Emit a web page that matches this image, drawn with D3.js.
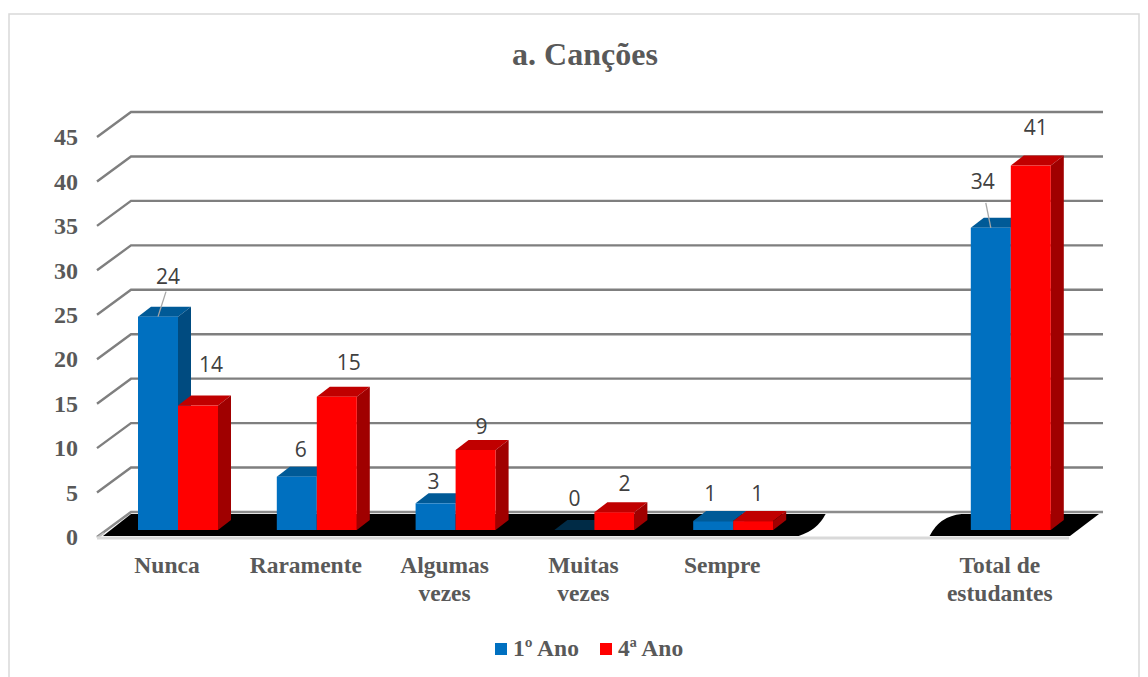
<!DOCTYPE html>
<html>
<head>
<meta charset="utf-8">
<script src="https://cdn.jsdelivr.net/npm/d3@7"></script>
<style>
    html, body { margin: 0; padding: 0; background: #fff; overflow: hidden; }
    svg { display: block; }
    .serif { font-family: "Liberation Serif", serif; font-weight: bold; fill: #595959; }
</style>
</head>
<body>
<div id="wrapper"></div>
<script>
const categories = ['Nunca', 'Raramente', 'Algumas vezes', 'Muitas vezes', 'Sempre', '', 'Total de estudantes']
const primeiroAno = [24, 6, 3, 0, 1, null, 34]
const quartoAno = [14, 15, 9, 2, 1, null, 41]
const seriesNames = ['1º Ano', '4ª Ano']
const yTicks = [0, 5, 10, 15, 20, 25, 30, 35, 40, 45]

// nudges for the data labels, [dx, dy] from the top of each bar
const labelNudge1 = [[10, -33], [4, -20], [-2, -14], [0, -24], [-3, -20], null, [-8, -39]]
const labelNudge2 = [[13, -34], [12, -27], [6, -16], [10, -21], [4, -20], null, [5, -31]]

const dimensions = { width: 1148, height: 677 }
const depth = { x: 34, y: 25 }       // wall offset
const barDepth = { x: 13, y: 10 }    // bar side offset
const barLift = 7                    // bars stand a bit behind the front edge

const colors = [
    { front: '#0070c0', top: '#005a97', side: '#004b80', flat: '#002b46' },
    { front: '#ff0000', top: '#c00000', side: '#a00000', flat: '#c00000' }
]

const svg = d3.select('#wrapper').append('svg')
    .attr('width', dimensions.width)
    .attr('height', dimensions.height)

// frame
svg.append('rect')
    .attr('x', 9).attr('y', 14)
    .attr('width', 1130).attr('height', 680)
    .attr('fill', '#fff')
    .attr('stroke', '#d9d9d9')
    .attr('stroke-width', 1.5)

svg.append('text')
    .attr('class', 'serif')
    .attr('x', 585).attr('y', 65)
    .attr('text-anchor', 'middle')
    .style('font-size', '32px')
    .text('a. Canções')

const yScale = d3.scaleLinear().domain([0, 45]).range([537, 137])
const xLeft = 97
const xRight = 1069

// walls
const grid = svg.append('g')
yTicks.forEach(t => {
    const y = yScale(t)
    grid.append('path')
        .attr('d', d3.line()([[xLeft, y], [xLeft + depth.x, y - depth.y], [xRight + depth.x, y - depth.y]]))
        .attr('fill', 'none')
        .attr('stroke', t === 0 ? '#8c8c8c' : '#7f7f7f')
        .attr('stroke-width', 2.4)
})

const xScale = d3.scaleBand().domain(categories).range([108.6, 1080.2])
const xSeries = d3.scaleBand().domain([0, 1]).range([xScale.bandwidth() / 2 - 40, xScale.bandwidth() / 2 + 40])
const barWidth = xSeries.bandwidth()

// floor, black plane broken by the empty category
const y0 = yScale(0)
const yBack = y0 - depth.y + 2
const gapStart = xScale('') + 23
const gapEnd = xScale('') + 127
svg.append('path')
    .attr('fill', '#000')
    .attr('d', `M${xLeft + 6},${y0 - 1} L${xLeft + depth.x},${yBack} L${gapStart},${yBack}
        Q${gapStart - 8},${y0 - 7} ${gapStart - 27},${y0 - 1} Z`)
svg.append('path')
    .attr('fill', '#000')
    .attr('d', `M${gapEnd},${y0 - 1} Q${gapEnd + 10},${yBack + 2} ${gapEnd + 32},${yBack}
        L${xRight + depth.x - 4},${yBack} L${xRight + 1},${y0 - 1} Z`)
svg.append('path')
    .attr('d', d3.line()([[xLeft, y0 + 1], [xLeft + 7, y0 - 4]]))
    .attr('stroke', '#bfbfbf').attr('stroke-width', 2)
svg.append('path')
    .attr('d', d3.line()([[xLeft, y0 + 1], [xRight, y0 + 1]]))
    .attr('stroke', '#d9d9d9').attr('stroke-width', 3)

// bars
function drawBar (g, x, value, c) {
    const bottom = yScale(0) - barLift
    const top = yScale(value) - barLift
    const dx = barDepth.x, dy = barDepth.y
    g.append('path')
        .attr('fill', value === 0 ? c.flat : c.top)
        .attr('d', d3.line()([[x, top], [x + dx, top - dy], [x + barWidth + dx, top - dy], [x + barWidth, top]]) + 'Z')
    if (value === 0) return
    g.append('path')
        .attr('fill', c.side)
        .attr('d', d3.line()([[x + barWidth, top], [x + barWidth + dx, top - dy], [x + barWidth + dx, bottom - dy], [x + barWidth, bottom]]) + 'Z')
    g.append('rect')
        .attr('x', x).attr('y', top)
        .attr('width', barWidth).attr('height', bottom - top)
        .attr('fill', c.front)
}

const bars = svg.append('g')
categories.forEach((cat, i) => {
    if (cat === '') return
    // blue first, the red bar overlaps its side
    ;[primeiroAno, quartoAno].forEach((vals, s) => {
        drawBar(bars, xScale(cat) + xSeries(s), vals[i], colors[s])
    })
})

// data labels
const labels = svg.append('g')
    .style('font-family', '"Open Sans", sans-serif')
    .style('font-size', '21px')
    .attr('fill', '#404040')
    .attr('text-anchor', 'middle')

;[[primeiroAno, labelNudge1], [quartoAno, labelNudge2]].forEach(([vals, nudge], s) => {
    categories.forEach((cat, i) => {
        if (vals[i] === null) return
        const x = xScale(cat) + xSeries(s) + barWidth / 2
        const y = yScale(vals[i]) - barLift
        labels.append('text')
            .attr('x', x + nudge[i][0])
            .attr('y', y + nudge[i][1])
            .text(vals[i])
    })
})

// leader lines on the two tall blue bars
;[0, 6].forEach(i => {
    const x = xScale(categories[i]) + xSeries(0) + barWidth / 2
    const y = yScale(primeiroAno[i]) - barLift
    const lean = i === 0 ? 8 : -5
    svg.append('path')
        .attr('d', d3.line()([[x, y], [x + lean, y - 25]]))
        .attr('stroke', '#a6a6a6')
        .attr('stroke-width', 1.3)
})

// y axis
const yAxis = svg.append('g')
    .attr('transform', `translate(${xLeft - 7},0)`)
    .call(d3.axisLeft(yScale).tickValues(yTicks).tickSize(0).tickPadding(12))
yAxis.select('.domain').remove()
yAxis.selectAll('text')
    .attr('class', 'serif')
    .style('font-size', '24px')

// x axis, labels wrap on two lines
const xAxis = svg.append('g')
    .attr('transform', `translate(-11,${y0})`)
    .call(d3.axisBottom(xScale).tickSize(0).tickPadding(0))
xAxis.select('.domain').remove()
xAxis.selectAll('text')
    .attr('class', 'serif')
    .style('font-size', '23.5px')
    .each(function (d) {
        const words = d === 'Total de estudantes' ? ['Total de', 'estudantes'] : d.split(' ')
        const text = d3.select(this).text(null).attr('dy', null).attr('y', 36)
        words.forEach((w, i) => {
            text.append('tspan').attr('x', 0).attr('dy', i ? 28 : 0).text(w)
        })
    })

// legend
const legendX = [495, 600]
seriesNames.forEach((name, i) => {
    svg.append('rect')
        .attr('x', legendX[i]).attr('y', 643)
        .attr('width', 12).attr('height', 12)
        .attr('fill', colors[i].front)
    svg.append('text')
        .attr('class', 'serif')
        .attr('x', legendX[i] + 18).attr('y', 656)
        .style('font-size', '23.5px')
        .text(name)
})
</script>
</body>
</html>
